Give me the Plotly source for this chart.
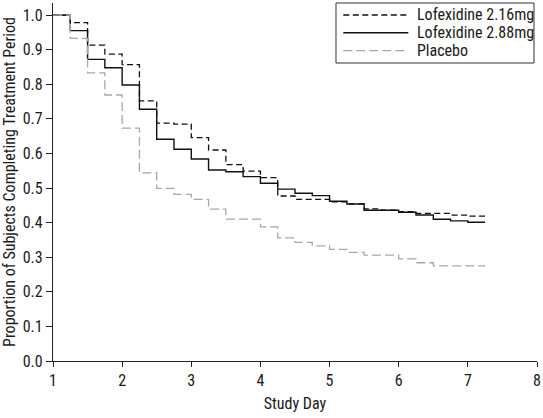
import plotly.graph_objects as go

days = [1.0, 1.25, 1.5, 1.75, 2.0, 2.25, 2.5, 2.75, 3.0, 3.25, 3.5, 3.75, 4.0,
        4.25, 4.5, 4.75, 5.0, 5.25, 5.5, 5.75, 6.0, 6.25, 6.5, 6.75, 7.0, 7.25]

lofex_216 = [1.0, 0.978, 0.913, 0.887, 0.857, 0.752, 0.688, 0.685, 0.646, 0.610,
             0.568, 0.549, 0.530, 0.477, 0.467, 0.467, 0.460, 0.454, 0.440, 0.436,
             0.432, 0.427, 0.427, 0.422, 0.419]
lofex_288 = [1.0, 0.955, 0.872, 0.848, 0.798, 0.728, 0.641, 0.612, 0.584, 0.552,
             0.547, 0.533, 0.514, 0.497, 0.485, 0.478, 0.462, 0.454, 0.436, 0.436,
             0.430, 0.422, 0.410, 0.405, 0.401]
placebo = [1.0, 0.933, 0.833, 0.769, 0.673, 0.544, 0.499, 0.482, 0.467, 0.439,
           0.410, 0.410, 0.388, 0.356, 0.343, 0.333, 0.323, 0.314, 0.306, 0.306,
           0.295, 0.284, 0.275, 0.275, 0.275]

series_names = ["Lofexidine 2.16mg", "Lofexidine 2.88mg", "Placebo"]
x_ticks = [1, 2, 3, 4, 5, 6, 7, 8]
y_ticks = [0.0, 0.1, 0.2, 0.3, 0.4, 0.5, 0.6, 0.7, 0.8, 0.9, 1.0]

FONT = "Liberation Sans Narrow, Roboto Condensed, Arial Narrow, Liberation Sans, sans-serif"
TXT = "#1a1a1a"

styles = [
    dict(color="#111111", width=1.3, dash="6px,3.5px"),
    dict(color="#111111", width=1.4, dash="solid"),
    dict(color="#a8a8a8", width=1.3, dash="9px,4px"),
]

def ext(v):
    return v + [v[-1]]

fig = go.Figure()
for name, vals, st in zip(series_names, [lofex_216, lofex_288, placebo], styles):
    fig.add_trace(go.Scatter(x=days, y=ext(vals), mode="lines", name=name,
                             showlegend=False,
                             line=dict(color=st["color"], width=st["width"],
                                       dash=st["dash"], shape="hv")))

# custom legend box (paper coordinates)
shapes = [dict(type="rect", xref="paper", yref="paper", x0=0.5847, x1=0.9938,
               y0=0.8324, y1=1.0, line=dict(color="#333333", width=1),
               fillcolor="white", layer="above")]
annotations = []
row_y = [0.9665, 0.917, 0.8668]
for name, st, yy in zip(series_names, styles, row_y):
    shapes.append(dict(type="line", xref="paper", yref="paper", x0=0.5998, x1=0.7341,
                       y0=yy, y1=yy, layer="above",
                       line=dict(color=st["color"], width=st["width"], dash=st["dash"])))
    annotations.append(dict(text=name, xref="paper", yref="paper", x=0.7479, y=yy,
                            xanchor="left", yanchor="middle", showarrow=False,
                            font=dict(size=16, color=TXT)))

fig.update_layout(
    width=543, height=418,
    margin=dict(l=53, r=6, t=3, b=57),
    paper_bgcolor="white", plot_bgcolor="white",
    font=dict(family=FONT, size=16, color=TXT),
    showlegend=False,
    shapes=shapes,
    annotations=annotations,
    xaxis=dict(range=[1, 8], tickvals=x_ticks, ticks="outside", ticklen=5,
               tickcolor="#222222", showline=True, linecolor="#222222", linewidth=1.3,
               showgrid=False, zeroline=False,
               title=dict(text="Study Day", font=dict(size=16), standoff=8)),
    yaxis=dict(range=[0, 1.035], tickvals=y_ticks, tickformat=".1f", ticks="outside",
               ticklen=6, tickcolor="#222222", showline=True, linecolor="#222222",
               linewidth=1.3, showgrid=False, zeroline=False,
               title=dict(text="Proportion of Subjects Completing Treatment Period",
                          font=dict(size=16), standoff=5)),
)

fig.write_html("out.html", config={"displayModeBar": False},
               post_script="document.body.style.margin='0px';")
